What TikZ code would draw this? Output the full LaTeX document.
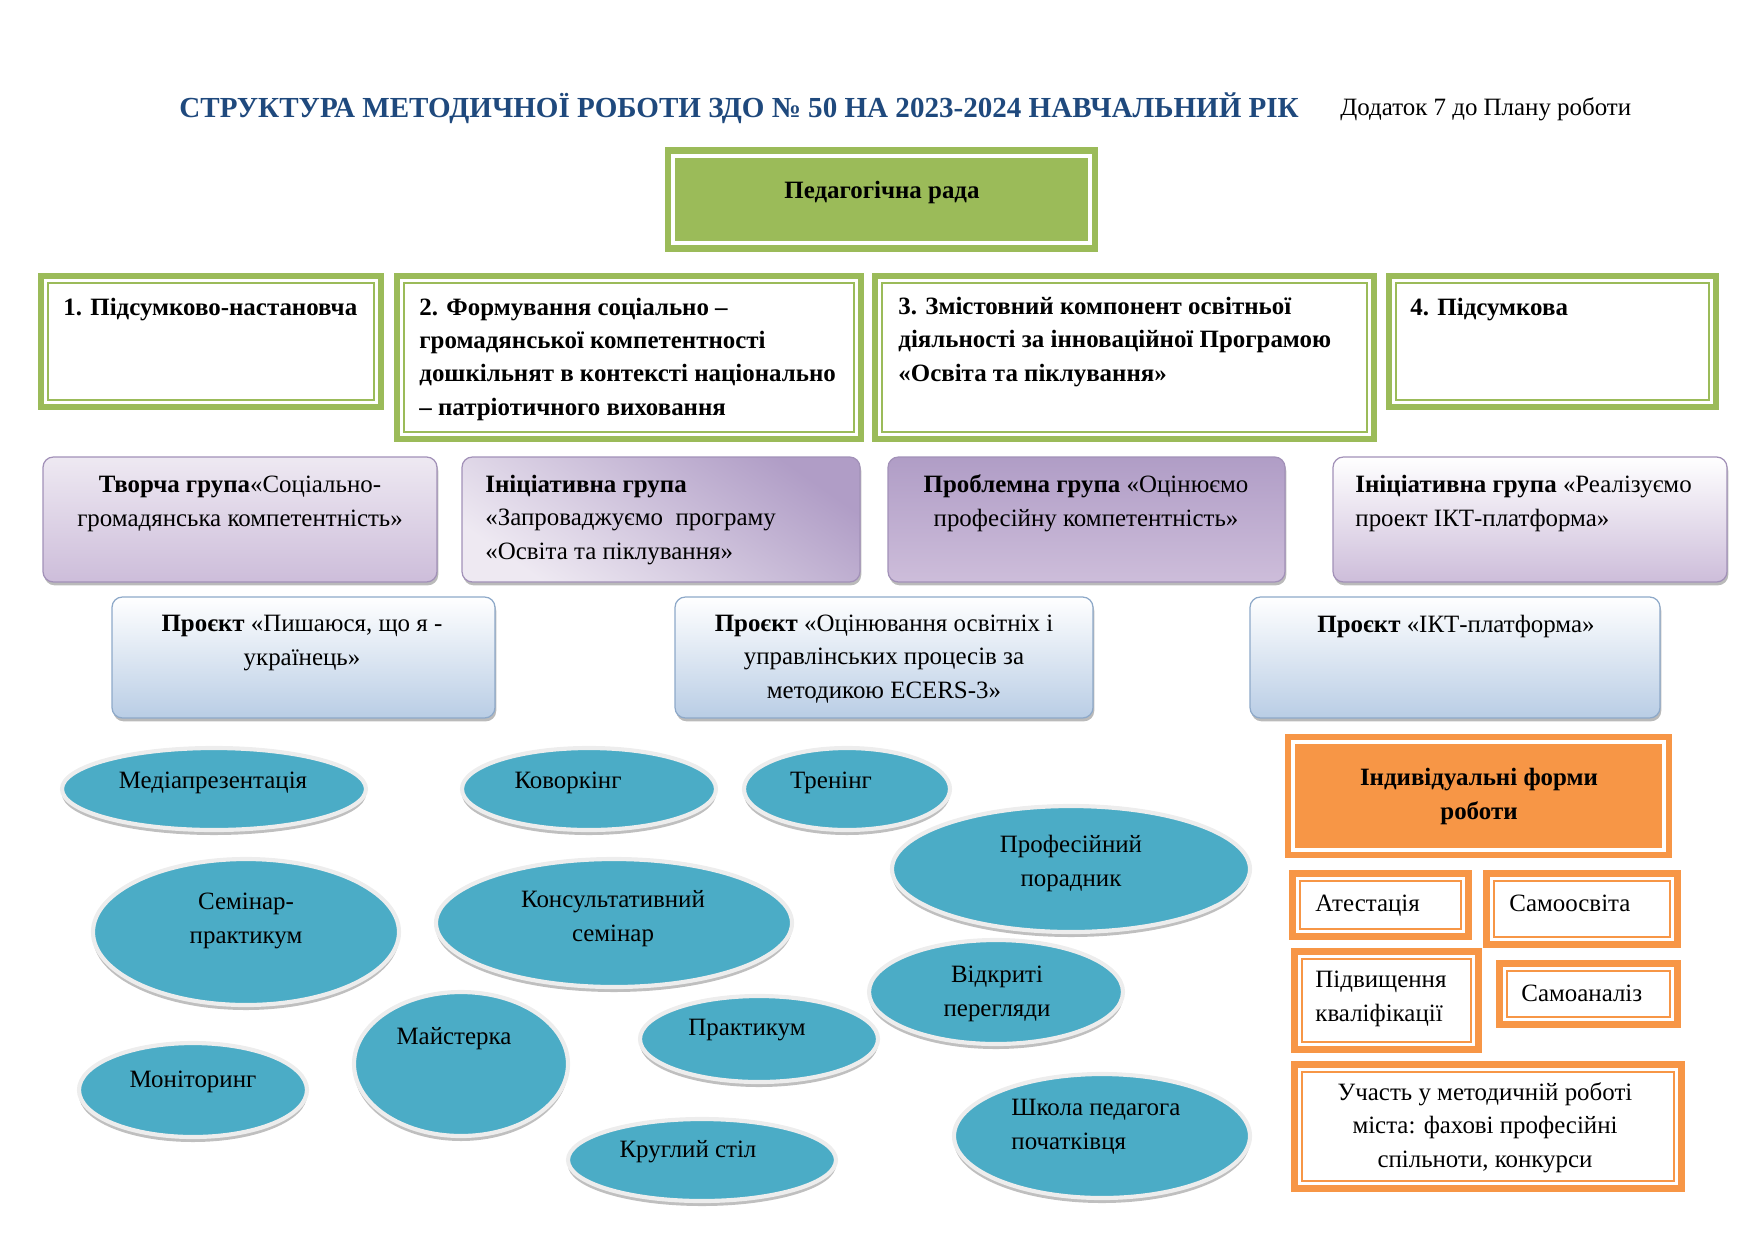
\documentclass[tikz,border=0pt]{standalone}
\usepackage{fontspec}
\setmainfont{Liberation Serif}
\usetikzlibrary{shadows}
\definecolor{frgreen}{HTML}{9BBB59}
\definecolor{frorange}{HTML}{F79646}
\definecolor{ovteal}{HTML}{4BACC6}
\definecolor{titleblue}{HTML}{1F497D}
\definecolor{lilaclt}{HTML}{EEE9F2}
\definecolor{lilacmd}{HTML}{CDBDDA}
\definecolor{lilacdk}{HTML}{B09DC6}
\definecolor{lilacline}{HTML}{A291B8}
\definecolor{bluemd}{HTML}{B9CDE5}
\definecolor{blueline}{HTML}{8EA9C9}

\tikzset{
  every node/.style={font=\fontsize{12}{15.9}\selectfont, inner sep=0pt},
  bold/.style={font=\bfseries\fontsize{12}{15.9}\selectfont},
  lilacbox/.style={rounded corners=5pt, draw=lilacline, line width=0.6pt,
    drop shadow={shadow xshift=0.6pt, shadow yshift=-1.6pt, fill=black!45, opacity=0.6}},
  bluebox/.style={rounded corners=5pt, draw=blueline, line width=0.6pt, top color=white, bottom color=bluemd,
    drop shadow={shadow xshift=0.6pt, shadow yshift=-1.6pt, fill=black!45, opacity=0.6}},
  rim/.style={draw=black!7, line width=2pt, fill=ovteal},
}

\begin{document}
\begin{tikzpicture}[x=0.016923cm,y=-0.016923cm]
\useasboundingbox (0,0) rectangle (1755,1240);

\node[anchor=base west, text=titleblue, font=\bfseries\fontsize{14}{16}\selectfont] (title) at (179,117)
  {СТРУКТУРА МЕТОДИЧНОЇ РОБОТИ ЗДО № 50 НА 2023-2024 НАВЧАЛЬНИЙ РІК};
\node[anchor=base west] (annex) at (1340,115) {Додаток 7 до Плану роботи};

\fill[frgreen] (665,147) rectangle (1098,252);
\draw[white, line width=1.5pt] (673,156) rectangle (1090,243);
\node[anchor=base, bold] (rada) at (882,198) {Педагогічна рада};

\foreach \a/\b/\c/\d in {38/273/384/410, 394/273/864/442, 872/273/1377/442, 1386/273/1719/410}
{
  \fill[frgreen] (\a,\b) rectangle (\c,\d);
  \fill[white] (\a+6,\b+6) rectangle (\c-6,\d-6);
  \draw[frgreen, line width=0.9pt] (\a+10,\b+10) rectangle (\c-10,\d-10);
}
\node[anchor=base west, bold, align=left] (stage1) at (63,315) {1. Підсумково-настановча};
\node[anchor=base west, bold, align=left] (stage2) at (419,415)
  {2. Формування соціально –\\громадянської компетентності\\дошкільнят в контексті національно\\– патріотичного виховання};
\node[anchor=base west, bold, align=left] (stage3) at (898,381)
  {3. Змістовний компонент освітньої\\діяльності за інноваційної Програмою\\«Освіта та піклування»};
\node[anchor=base west, bold, align=left] (stage4) at (1410,315) {4. Підсумкова};

\draw[lilacbox, top color=lilaclt, bottom color=lilacmd] (43,457) rectangle (437,582);
\draw[lilacbox, top color=lilacdk, middle color=lilaclt!60!lilacmd, bottom color=lilaclt, shading angle=-35] (462,457) rectangle (860,582);
\draw[lilacbox, top color=lilacdk, middle color=lilaclt, bottom color=lilacmd] (888,457) rectangle (1285,582);
\draw[lilacbox, top color=white, bottom color=lilacmd] (1333,457) rectangle (1727,582);
\node[anchor=base, align=center] (grp1) at (240,526)
  {\textbf{Творча група}«Соціально-\\громадянська компетентність»};
\node[anchor=base west, align=left] (grp2) at (485,559)
  {\textbf{Ініціативна група}\\«Запроваджуємо\ \ програму\\«Освіта та піклування»};
\node[anchor=base, align=center] (grp3) at (1086,526)
  {\textbf{Проблемна група} «Оцінюємо\\професійну компетентність»};
\node[anchor=base west, align=left] (grp4) at (1355,526)
  {\textbf{Ініціативна група} «Реалізуємо\\проект ІКТ-платформа»};

\draw[bluebox] (112,597) rectangle (495,718);
\draw[bluebox] (675,597) rectangle (1093,718);
\draw[bluebox] (1250,597) rectangle (1660,718);
\node[anchor=base, align=center] (proj1) at (302,665) {\textbf{Проєкт} «Пишаюся, що я -\\українець»};
\node[anchor=base, align=center] (proj2) at (884,698)
  {\textbf{Проєкт} «Оцінювання освітніх і\\управлінських процесів за\\методикою ECERS-3»};
\node[anchor=base, align=center] (proj3) at (1456,632) {\textbf{Проєкт} «ІКТ-платформа»};

\foreach \x/\y/\rx/\ry in {214/789/152/41, 589/789/127/41, 847/789/103/41, 1071/869/179/63,
  246/932/153/73, 614/923/178/64, 996/992/127/52, 193/1090/114/47, 461/1064/107/72,
  759/1039/119/43, 702/1160/134/41, 1102/1136/148/62}
{
  \fill[black!25] (\x,\y+5) ellipse [x radius=\rx, y radius=\ry];
  \draw[rim] (\x,\y) ellipse [x radius=\rx, y radius=\ry];
}
\foreach \n/\x/\y/\txt in {media/213/788/Медіапрезентація, cowork/568/788/Коворкінг, train/831/788/Тренінг,
  advisor/1071/886/{Професійний\\порадник}, semprac/246/943/{Семінар-\\практикум},
  consult/613/941/{Консультативний\\семінар}, openview/997/1016/{Відкриті\\перегляди},
  monitor/193/1087/Моніторинг, workshop/454/1044/Майстерка, practice/747/1035/Практикум,
  roundtbl/688/1157/Круглий стіл}
  \node[anchor=base, align=center] (\n) at (\x,\y) {\txt};
\node[anchor=base west, align=left] (school) at (1011,1149) {Школа педагога\\початківця};

\fill[frorange] (1285,734) rectangle (1672,858);
\draw[white, line width=1.5pt] (1293,742) rectangle (1664,850);
\node[anchor=base, bold, align=center] (indiv) at (1479,819) {Індивідуальні форми\\роботи};
\foreach \a/\b/\c/\d in {1289/870/1472/940, 1483/870/1681/948, 1291/948/1482/1053,
  1496/960/1681/1028, 1291/1061/1685/1192}
{
  \fill[frorange] (\a,\b) rectangle (\c,\d);
  \fill[white] (\a+7,\b+7) rectangle (\c-7,\d-7);
  \draw[frorange, line width=0.9pt] (\a+11,\b+11) rectangle (\c-11,\d-11);
}
\node[anchor=base west] (attest) at (1315,911) {Атестація};
\node[anchor=base west] (selfedu) at (1509,911) {Самоосвіта};
\node[anchor=base west, align=left] (qualif) at (1315,1021) {Підвищення\\кваліфікації};
\node[anchor=base west] (selfan) at (1521,1001) {Самоаналіз};
\node[anchor=base, align=center] (city) at (1485,1167)
  {Участь у методичній роботі\\міста: фахові професійні\\спільноти, конкурси};
\end{tikzpicture}
\end{document}
